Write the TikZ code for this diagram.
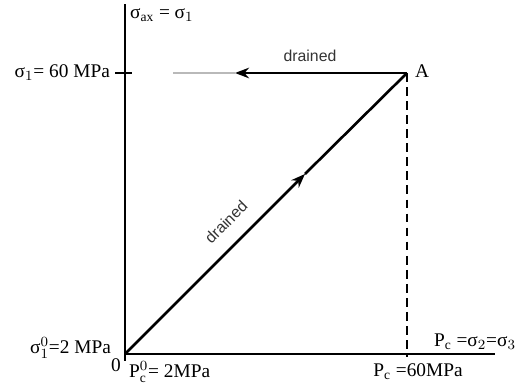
\documentclass[tikz,border=0pt]{standalone}
\usepackage{fontspec}
\setmainfont{Liberation Serif}
\newfontfamily\labelsans{Liberation Sans}
\usetikzlibrary{arrows.meta}

\begin{document}
\begin{tikzpicture}[
  axis/.style={line width=0.8pt, draw=black},
  path/.style={line width=1.5pt, draw=black},
  pathtip/.style={path, -{Stealth[length=8pt, width=6pt]}},
  grayline/.style={line width=0.9pt, draw=gray!55},
  guide/.style={line width=0.8pt, dashed, dash pattern=on 5pt off 3pt},
  lbl/.style={font=\fontsize{11}{13}\selectfont, inner sep=1pt},
  pathlbl/.style={font=\labelsans\fontsize{9}{11}\selectfont, text=black!80, inner sep=1pt},
]
\useasboundingbox (0,0) rectangle (10.38,7.7);

% Points of the stress path
\coordinate (orig) at (2.50,0.62);
\coordinate (ptA) at (8.14,6.24);
\coordinate (ytop) at (2.50,7.62);
\coordinate (ybot) at (2.50,0.48);
\coordinate (xend) at (9.90,0.62);
\coordinate (foot) at (8.14,0.56);
\coordinate (tickL) at (2.30,6.24);
\coordinate (tickR) at (2.64,6.24);
\coordinate (hortip) at (4.70,6.24);
\coordinate (grayend) at (3.46,6.24);
\coordinate (diagtip) at (6.10,4.22);

% Axes
\draw[axis] (ybot) -- (ytop);
\draw[axis] (orig) -- (xend);
\draw[axis] (tickL) -- (tickR);
\draw[guide] (ptA) -- (foot);

% Drained loading paths
\draw[pathtip] (orig) -- (diagtip);
\draw[path] (diagtip) -- (ptA);
\draw[pathtip] (ptA) -- (hortip);
\draw[grayline] (hortip) -- (grayend);

% Labels
\node[lbl, anchor=west] (ylab) at (2.56,7.40) {σ$_\mathrm{ax}$ = σ$_1$};
\node[lbl, anchor=east] (s1lab) at (2.24,6.24) {σ$_1$= 60 MPa};
\node[lbl, anchor=west] (lblA) at (8.26,6.28) {A};
\node[pathlbl] (drtop) at (6.20,6.58) {drained};
\node[pathlbl, rotate=45] (drdiag) at (4.52,3.26) {drained};
\node[lbl, anchor=east] (s10lab) at (2.26,0.74) {σ$_1^0$=2 MPa};
\node[lbl] (zero) at (2.32,0.40) {0};
\node[lbl, anchor=west] (pc0lab) at (2.54,0.26) {P$_\mathrm{c}^0$= 2MPa};
\node[lbl] (pclab) at (8.36,0.26) {P$_\mathrm{c}$ =60MPa};
\node[lbl, anchor=east] (xlab) at (10.36,0.86) {P$_\mathrm{c}$ =σ$_2$=σ$_3$};
\end{tikzpicture}
\end{document}
